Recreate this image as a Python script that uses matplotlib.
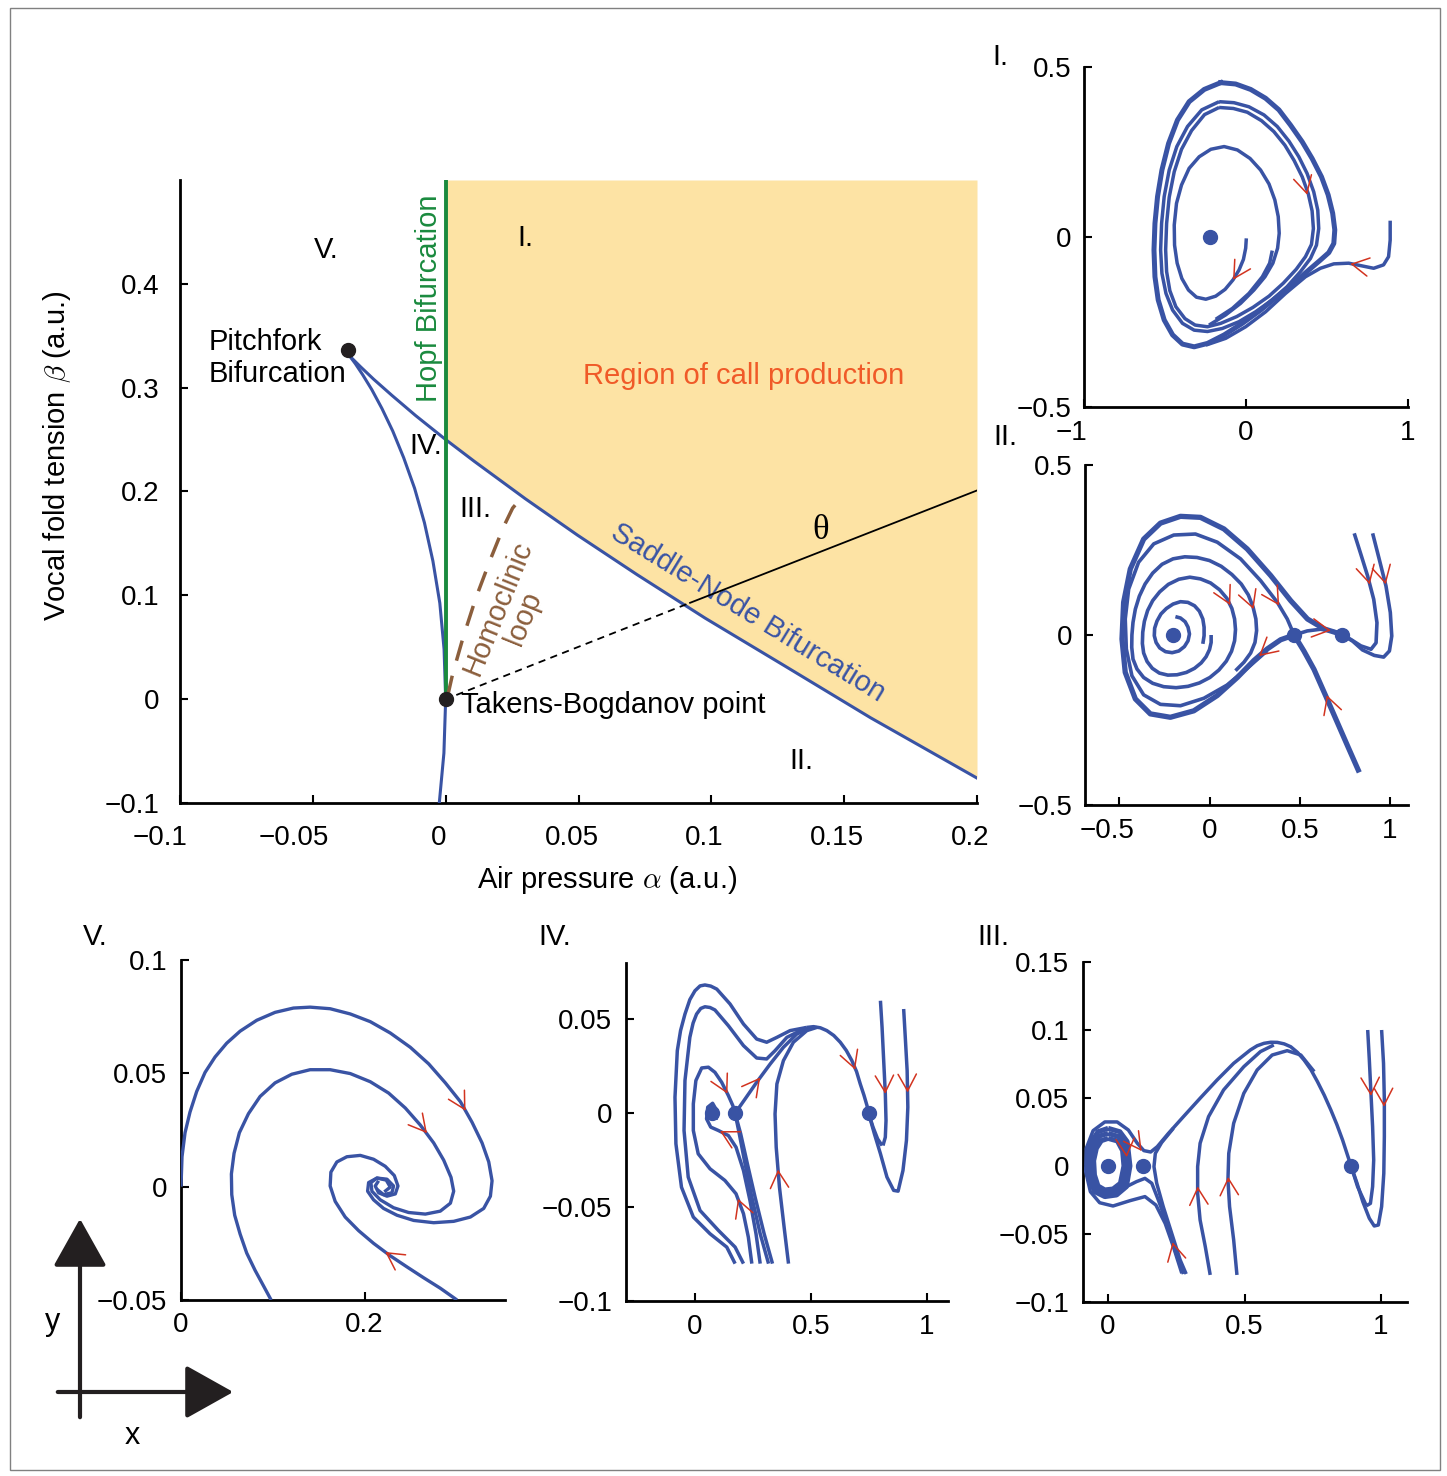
import numpy as np
import matplotlib.pyplot as plt
from matplotlib.patches import Rectangle, FancyArrowPatch
from matplotlib.transforms import ScaledTranslation

plt.rcParams["font.family"] = ["Liberation Sans", "DejaVu Sans"]
plt.rcParams["mathtext.fontset"] = "cm"
plt.rcParams["lines.solid_joinstyle"] = "round"

BLUE = "#3953a4"
RED = "#d2331f"
GREEN = "#1a8a3e"
BROWN = "#8b5e3c"
ORANGE = "#f05a28"
FILL = "#fde3a4"

# ---------------- bifurcation diagram (alpha, beta) ----------------
sn_upper_alpha = [-0.037, -0.0368, -0.0352, -0.032, -0.0271, -0.0202, -0.0113, 0.0, 0.0108, 0.030, 0.0496, 0.072,
                  0.0977, 0.127, 0.160, 0.200]
sn_upper_beta = [0.333, 0.3325, 0.3281, 0.320, 0.3081, 0.2925, 0.2731, 0.250, 0.229, 0.193, 0.158, 0.120, 0.078,
                 0.033, -0.018, -0.076]
sn_lower_alpha = [-0.037, -0.0369, -0.036, -0.034, -0.03125, -0.0278, -0.024, -0.0199, -0.0158, -0.0117, -0.008,
                  -0.0048, -0.0022, -0.0006, 0.0, -0.00066, -0.0024]
sn_lower_beta = [0.333, 0.3328, 0.330, 0.3231, 0.3125, 0.2981, 0.280, 0.2581, 0.2325, 0.2031, 0.170, 0.133, 0.0925,
                 0.0481, 0.0, -0.0519, -0.100]
hopf_alpha = [0.0, 0.0]
hopf_beta = [0.0, 0.5]
homoclinic_alpha = [0.00075, 0.0026, 0.0064, 0.0113, 0.0169, 0.0218, 0.0252, 0.0282]
homoclinic_beta = [0.003, 0.024, 0.058, 0.097, 0.135, 0.166, 0.184, 0.193]
theta_dash_alpha = [0.004, 0.092]
theta_dash_beta = [0.004, 0.0928]
theta_solid_alpha = [0.092, 0.200]
theta_solid_beta = [0.0928, 0.201]
pitchfork_pt = (-0.0368, 0.336)
tb_pt = (0.0, 0.0)

# ---------------- panel I ----------------
p1_fixed = [(-0.22, 0.0)]
p1_outer = ([-0.156, -0.064, 0.029, 0.121, 0.203, 0.275, 0.347, 0.408, 0.466, 0.507, 0.535, 0.548, 0.542, 0.511,
             0.459, 0.388, 0.306, 0.203, 0.090, -0.023, -0.135, -0.238, -0.320, -0.392, -0.453, -0.505, -0.542,
             -0.562, -0.568, -0.562, -0.546, -0.519, -0.478, -0.423, -0.351, -0.258, -0.156],
            [0.454, 0.450, 0.434, 0.408, 0.374, 0.329, 0.280, 0.231, 0.177, 0.124, 0.070, 0.021, -0.019, -0.046,
             -0.068, -0.097, -0.131, -0.171, -0.215, -0.254, -0.288, -0.313, -0.323, -0.315, -0.288, -0.244, -0.185,
             -0.117, -0.038, 0.040, 0.119, 0.197, 0.275, 0.344, 0.398, 0.434, 0.454])
p1_ring = ([-0.166, -0.074, 0.018, 0.111, 0.193, 0.265, 0.326, 0.377, 0.418, 0.443, 0.449, 0.435, 0.398, 0.336, 0.254,
            0.162, 0.059, -0.043, -0.146, -0.238, -0.320, -0.392, -0.453, -0.494, -0.519, -0.527, -0.521, -0.505,
            -0.474, -0.427, -0.361, -0.273, -0.166],
           [0.398, 0.395, 0.383, 0.359, 0.325, 0.282, 0.236, 0.187, 0.133, 0.079, 0.025, -0.024, -0.063, -0.102,
            -0.146, -0.185, -0.220, -0.249, -0.269, -0.278, -0.274, -0.254, -0.215, -0.166, -0.107, -0.038, 0.040,
            0.119, 0.197, 0.266, 0.325, 0.374, 0.398])
p1_ring2 = ([-0.166, -0.078, 0.008, 0.096, 0.172, 0.240, 0.297, 0.347, 0.384, 0.408, 0.416, 0.404, 0.367, 0.310, 0.230,
             0.142, 0.043, -0.057, -0.156, -0.238, -0.314, -0.377, -0.433, -0.470, -0.490, -0.496, -0.490, -0.474,
             -0.443, -0.398, -0.336, -0.256, -0.166],
            [0.381, 0.378, 0.367, 0.342, 0.310, 0.270, 0.225, 0.177, 0.128, 0.077, 0.025, -0.022, -0.058, -0.095,
             -0.136, -0.174, -0.207, -0.234, -0.254, -0.264, -0.259, -0.240, -0.205, -0.158, -0.102, -0.038, 0.040,
             0.117, 0.192, 0.258, 0.313, 0.360, 0.381])
p1_inner = ([0.002, -0.002, -0.016, -0.043, -0.080, -0.129, -0.187, -0.248, -0.306, -0.355, -0.396, -0.425, -0.441,
             -0.443, -0.429, -0.398, -0.351, -0.289, -0.217, -0.135, -0.053, 0.025, 0.090, 0.142, 0.178, 0.199, 0.205,
             0.195, 0.166, 0.117, 0.049, -0.033, -0.125, -0.228],
            [-0.004, -0.033, -0.066, -0.097, -0.126, -0.154, -0.174, -0.183, -0.177, -0.156, -0.122, -0.077, -0.024,
             0.035, 0.099, 0.153, 0.202, 0.236, 0.258, 0.266, 0.256, 0.231, 0.197, 0.156, 0.109, 0.060, 0.011,
             -0.033, -0.077, -0.117, -0.156, -0.195, -0.229, -0.259])
p1_short = ([0.162, 0.146, 0.101, 0.018, -0.084, -0.187],
            [-0.040, -0.077, -0.117, -0.166, -0.210, -0.242])
p1_right = ([0.890, 0.890, 0.880, 0.849, 0.788, 0.716, 0.634, 0.542, 0.459, 0.367, 0.244, 0.121, -0.002, -0.125, -0.248],
            [0.048, -0.009, -0.058, -0.082, -0.092, -0.085, -0.077, -0.079, -0.092, -0.117, -0.166, -0.220, -0.264,
             -0.298, -0.318])
p1_arrows = [((0.378, 0.124), (0.350, 0.175)), ((-0.080, -0.126), (-0.043, -0.097)), ((0.644, -0.079), (0.716, -0.085))]

# ---------------- panel II ----------------
p2_fixed = [(-0.2, 0.0), (0.469, 0.0), (0.737, 0.0)]
p2_spiral1 = ([-0.189, -0.161, -0.135, -0.119, -0.111, -0.119, -0.139, -0.170, -0.207, -0.244, -0.276, -0.296, -0.306,
               -0.304, -0.291, -0.269, -0.239, -0.202, -0.161, -0.120, -0.083, -0.056, -0.037, -0.030, -0.030, -0.037],
              [0.054, 0.050, 0.039, 0.023, 0.003, -0.017, -0.034, -0.047, -0.052, -0.049, -0.038, -0.022, -0.002,
               0.020, 0.041, 0.062, 0.078, 0.091, 0.098, 0.096, 0.086, 0.070, 0.047, 0.023, -0.002, -0.026])
p2_spiral2 = ([0.009, 0.009, 0.000, -0.019, -0.046, -0.083, -0.128, -0.180, -0.231, -0.278, -0.317, -0.346, -0.365,
               -0.372, -0.370, -0.361, -0.343, -0.315, -0.276, -0.228, -0.170, -0.109, -0.050, 0.006, 0.056, 0.096,
               0.124, 0.139, 0.144, 0.139, 0.122, 0.093, 0.052, 0.002, -0.056, -0.119, -0.185, -0.254, -0.315,
               -0.365, -0.402, -0.424, -0.431, -0.430, -0.424, -0.411, -0.389, -0.357, -0.315, -0.263, -0.202,
               -0.137, -0.069, 0.000, 0.065, 0.124, 0.176, 0.215, 0.241, 0.257, 0.261, 0.252, 0.228, 0.191, 0.144],
              [0.000, -0.022, -0.043, -0.064, -0.082, -0.098, -0.110, -0.117, -0.118, -0.112, -0.098, -0.078, -0.053,
               -0.025, 0.008, 0.040, 0.072, 0.101, 0.127, 0.149, 0.164, 0.170, 0.165, 0.153, 0.133, 0.108, 0.078,
               0.047, 0.016, -0.017, -0.048, -0.077, -0.103, -0.125, -0.141, -0.151, -0.155, -0.152, -0.142, -0.125,
               -0.100, -0.071, -0.036, 0.000, 0.037, 0.076, 0.114, 0.150, 0.182, 0.208, 0.224, 0.230, 0.228, 0.219,
               0.202, 0.178, 0.150, 0.118, 0.083, 0.047, 0.013, -0.022, -0.053, -0.080, -0.105])
p2_outer = ([0.469, 0.394, 0.320, 0.246, 0.154, 0.043, -0.087, -0.217, -0.328, -0.411, -0.467, -0.485, -0.476, -0.439,
             -0.365, -0.272, -0.161, -0.050, 0.080, 0.209, 0.339, 0.450, 0.543, 0.635, 0.737],
            [0.0, -0.014, -0.041, -0.075, -0.125, -0.178, -0.223, -0.242, -0.232, -0.188, -0.110, -0.012, 0.096,
             0.194, 0.282, 0.329, 0.349, 0.346, 0.312, 0.253, 0.175, 0.101, 0.047, 0.018, 0.001])
p2_loop = ([0.320, 0.209, 0.098, -0.031, -0.161, -0.272, -0.365, -0.430, -0.461, -0.467, -0.448, -0.393, -0.309,
            -0.198, -0.078, 0.043, 0.172, 0.283, 0.376, 0.431, 0.469],
           [-0.046, -0.098, -0.147, -0.186, -0.208, -0.204, -0.176, -0.120, -0.041, 0.047, 0.135, 0.214, 0.268,
            0.294, 0.297, 0.273, 0.224, 0.160, 0.096, 0.047, 0.0])
p2_stable = ([0.824, 0.765, 0.709, 0.644, 0.579, 0.523, 0.469],
             [-0.397, -0.326, -0.258, -0.179, -0.101, -0.047, 0.0])
p2_to_node = ([0.469, 0.542, 0.616, 0.691, 0.737], [0.0, 0.012, 0.017, 0.010, 0.0])
p2_t1 = ([0.802, 0.839, 0.876, 0.910, 0.928, 0.923, 0.895, 0.839, 0.783, 0.737],
         [0.299, 0.237, 0.174, 0.105, 0.036, -0.023, -0.042, -0.032, -0.013, 0.0])
p2_t2 = ([0.904, 0.941, 0.978, 1.002, 1.010, 0.997, 0.965, 0.913, 0.848, 0.793, 0.737],
         [0.299, 0.222, 0.144, 0.066, -0.003, -0.047, -0.065, -0.060, -0.044, -0.018, 0.0])
p2_arrows = [((0.115, 0.088), (0.096, 0.108)), ((0.244, 0.076), (0.215, 0.118)), ((0.386, 0.087), (0.350, 0.118)),
             ((0.672, 0.013), (0.620, 0.017)), ((0.274, -0.062), (0.320, -0.041)), ((0.650, -0.177), (0.676, -0.218)),
             ((0.888, 0.149), (0.876, 0.174)), ((0.977, 0.149), (0.960, 0.185))]

# ---------------- panel V ----------------
p5_a = ([0.0, 0.0011, 0.0044, 0.0098, 0.0171, 0.0262, 0.0371, 0.0498, 0.0644, 0.0825, 0.1025, 0.1225, 0.1407, 0.1625,
         0.1844, 0.2062, 0.2280, 0.2498, 0.2698, 0.2880, 0.3044, 0.3171, 0.3280, 0.3353, 0.3389, 0.3371, 0.3298, 0.3153,
         0.2971, 0.2753, 0.2535, 0.2353, 0.2207, 0.2098, 0.2033, 0.2044, 0.2135, 0.2244, 0.2316, 0.2298, 0.2207, 0.2135],
        [0.0, 0.0132, 0.0238, 0.0329, 0.0420, 0.0504, 0.0572, 0.0633, 0.0686, 0.0734, 0.0769, 0.0788, 0.0792, 0.0785,
         0.0762, 0.0728, 0.0678, 0.0615, 0.0542, 0.0458, 0.0375, 0.0284, 0.0193, 0.0109, 0.0026, -0.0042, -0.0096,
         -0.0134, -0.0153, -0.0159, -0.0149, -0.0126, -0.0096, -0.0058, -0.0020, 0.0018, 0.0038, 0.0033, 0.0003,
         -0.0027, -0.0035, -0.0012])
p5_b = ([0.0982, 0.0898, 0.0807, 0.0716, 0.0644, 0.0585, 0.0553, 0.0549, 0.0578, 0.0636, 0.0735, 0.0862, 0.1025, 0.1207,
         0.1407, 0.1625, 0.1844, 0.2062, 0.2262, 0.2444, 0.2607, 0.2753, 0.2862, 0.2942, 0.2971, 0.2935, 0.2825, 0.2662,
         0.2480, 0.2316, 0.2171, 0.2080, 0.2069, 0.2135, 0.2236, 0.2280, 0.2215],
        [-0.050, -0.0437, -0.0369, -0.0293, -0.0209, -0.0126, -0.0035, 0.0056, 0.0147, 0.0238, 0.0322, 0.0398, 0.0458,
         0.0496, 0.0516, 0.0516, 0.0499, 0.0463, 0.0413, 0.0347, 0.0272, 0.0193, 0.0117, 0.0041, -0.0020, -0.0073,
         -0.0108, -0.0121, -0.0114, -0.0093, -0.0058, -0.0020, 0.0018, 0.0038, 0.0029, -0.0002, -0.0023])
p5_c = ([0.3007, 0.2825, 0.2644, 0.2462, 0.2280, 0.2098, 0.1935, 0.1789, 0.1680, 0.1625, 0.1633, 0.1698, 0.1807, 0.1953,
         0.2098, 0.2225, 0.2324, 0.2364, 0.2335, 0.2244, 0.2153, 0.2116, 0.2153],
        [-0.050, -0.0448, -0.0402, -0.0354, -0.0305, -0.0250, -0.0194, -0.0134, -0.0065, 0.0003, 0.0064, 0.0109, 0.0132,
         0.0138, 0.0121, 0.0090, 0.0049, 0.0003, -0.0032, -0.0042, -0.0027, 0.0003, 0.0026])
p5_arrows = [((0.268, 0.0236), (0.2607, 0.0272)), ((0.310, 0.0335), (0.3044, 0.0375)), ((0.2225, -0.0288), (0.2462, -0.0354))]

# ---------------- panel IV ----------------
p4_fixed = [(0.074, 0.0), (0.173, 0.0), (0.748, 0.0)]
p4_l1 = ([0.173, 0.137, 0.065, -0.007, -0.058, -0.082, -0.086, -0.076, -0.062, -0.043, -0.022, 0.000, 0.022, 0.043,
          0.068, 0.094, 0.151, 0.209, 0.266, 0.309, 0.353, 0.410, 0.482],
         [-0.0801, -0.0713, -0.0642, -0.0553, -0.0394, -0.0163, 0.0085, 0.0333, 0.0440, 0.0528, 0.0605, 0.0652, 0.0678,
          0.0683, 0.0677, 0.0661, 0.0582, 0.0475, 0.0395, 0.0378, 0.0404, 0.0440, 0.0457])
p4_l2 = ([0.209, 0.173, 0.101, 0.022, -0.029, -0.047, -0.043, -0.022, -0.008, 0.007, 0.025, 0.043, 0.065, 0.086, 0.144,
          0.209, 0.266, 0.309, 0.345, 0.396, 0.482],
         [-0.0801, -0.0713, -0.0624, -0.0518, -0.0340, -0.0092, 0.0174, 0.0404, 0.0480, 0.0528, 0.0558, 0.0567, 0.0563,
          0.0550, 0.0466, 0.0360, 0.0294, 0.0289, 0.0333, 0.0404, 0.0457])
p4_arch = ([0.482, 0.511, 0.540, 0.568, 0.598, 0.626, 0.652, 0.676, 0.696, 0.712, 0.728, 0.741, 0.748, 0.767, 0.787,
            0.806],
           [0.0457, 0.0461, 0.0455, 0.0440, 0.0414, 0.0378, 0.0334, 0.0280, 0.0222, 0.0156, 0.0096, 0.0041, 0.0, -0.0074,
            -0.0137, -0.0172])
p4_l3 = ([0.245, 0.230, 0.209, 0.177, 0.129, 0.065, 0.014, -0.007, -0.007, 0.004, 0.029, 0.058, 0.086, 0.115, 0.144,
          0.163, 0.173],
         [-0.0801, -0.0660, -0.0535, -0.0429, -0.0358, -0.0296, -0.0216, -0.0092, 0.0050, 0.0174, 0.0241, 0.0245,
          0.0218, 0.0165, 0.0094, 0.0041, 0.0])
p4_focus_in = ([0.281, 0.263, 0.237, 0.209, 0.177, 0.144, 0.101, 0.068, 0.050, 0.055, 0.076, 0.094, 0.091],
               [-0.0801, -0.0642, -0.0465, -0.0305, -0.0181, -0.0119, -0.0092, -0.0074, -0.0030, 0.0032, 0.0053,
                0.0014, -0.0035])
p4_u1 = ([0.173, 0.191, 0.216, 0.245, 0.281, 0.317], [0.0, -0.0110, -0.0270, -0.0447, -0.0642, -0.0801])
p4_u2 = ([0.173, 0.197, 0.226, 0.259, 0.298, 0.334], [0.0, -0.0110, -0.0270, -0.0447, -0.0642, -0.0801])
p4_up = ([0.173, 0.216, 0.266, 0.324, 0.381, 0.439, 0.496], [0.0, 0.0076, 0.0165, 0.0262, 0.0351, 0.0422, 0.0454])
p4_r = ([0.403, 0.384, 0.364, 0.350, 0.345, 0.353, 0.381, 0.424, 0.482, 0.525],
        [-0.0801, -0.0606, -0.0394, -0.0181, -0.0004, 0.0156, 0.0280, 0.0378, 0.0440, 0.0457])
p4_t1 = ([0.799, 0.806, 0.813, 0.820, 0.823, 0.820, 0.810], [0.0599, 0.0457, 0.0280, 0.0103, -0.0039, -0.0128, -0.0172])
p4_t2 = ([0.899, 0.906, 0.914, 0.917, 0.911, 0.896, 0.875, 0.856, 0.827, 0.799, 0.773, 0.748],
         [0.0555, 0.0404, 0.0227, 0.0032, -0.0145, -0.0305, -0.0415, -0.0411, -0.0340, -0.0216, -0.0110, 0.0])
p4_arrows = [((0.690, 0.0232), (0.676, 0.0280)), ((0.820, 0.0103), (0.813, 0.0280)), ((0.916, 0.0110), (0.914, 0.0227)),
             ((0.140, 0.0104), (0.115, 0.0165)), ((0.281, 0.0190), (0.250, 0.0140)), ((0.108, -0.0095), (0.144, -0.0119)),
             ((0.185, -0.0455), (0.209, -0.0535)), ((0.358, -0.0300), (0.364, -0.0394))]

# ---------------- panel III ----------------
p3_fixed = [(0.0, 0.0), (0.129, 0.0), (0.890, 0.0)]
p3_outer = ([0.270, 0.239, 0.209, 0.175, 0.135, 0.080, 0.018, -0.031, -0.065, -0.082, -0.080, -0.055, -0.012, 0.033,
             0.074, 0.107, 0.131, 0.156, 0.180, 0.221, 0.276, 0.337, 0.399, 0.460, 0.521, 0.546, 0.571, 0.596, 0.620,
             0.645, 0.669, 0.694, 0.718, 0.743, 0.767, 0.792, 0.816, 0.838, 0.859, 0.890, 0.914, 0.945],
            [-0.0789, -0.0593, -0.0422, -0.0287, -0.0225, -0.0255, -0.0294, -0.0270, -0.0189, -0.0042, 0.0130, 0.0260,
             0.0324, 0.0324, 0.0265, 0.0167, 0.0113, 0.0103, 0.0142, 0.0240, 0.0363, 0.0498, 0.0632, 0.0755, 0.0853,
             0.0884, 0.0902, 0.0910, 0.0909, 0.0898, 0.0877, 0.0835, 0.0779, 0.0708, 0.0620, 0.0520, 0.0412, 0.0305,
             0.0191, 0.0, -0.0152, -0.0287])
p3_r1 = ([0.000, 0.043, 0.070, 0.080, 0.067, 0.031, -0.012, -0.049, -0.070, -0.074, -0.065, -0.037, 0.000],
         [0.0277, 0.0252, 0.0179, 0.0, -0.0152, -0.0213, -0.0225, -0.0189, -0.0091, 0.0044, 0.0167, 0.0252, 0.0277])
p3_r2 = ([0.000, 0.039, 0.061, 0.067, 0.055, 0.025, -0.012, -0.043, -0.060, -0.063, -0.053, -0.031, 0.000],
         [0.0240, 0.0216, 0.0142, 0.0, -0.0140, -0.0189, -0.0196, -0.0164, -0.0078, 0.0044, 0.0154, 0.0221, 0.0240])
p3_r3 = ([0.000, 0.034, 0.053, 0.058, 0.045, 0.018, -0.012, -0.037, -0.050, -0.053, -0.043, -0.025, 0.000],
         [0.0203, 0.0184, 0.0113, 0.0, -0.0127, -0.0169, -0.0176, -0.0147, -0.0066, 0.0039, 0.0130, 0.0186, 0.0203])
p3_f2 = ([0.067, 0.104, 0.135, 0.160, 0.184, 0.215, 0.245, 0.276],
         [-0.0152, -0.0115, -0.0091, -0.0127, -0.0250, -0.0422, -0.0618, -0.0794])
p3_e = ([0.239, 0.196, 0.173, 0.168, 0.178, 0.202, 0.233, 0.264, 0.286],
        [0.0277, 0.0172, 0.0093, -0.0005, -0.0127, -0.0299, -0.0495, -0.0691, -0.0794])
p3_c = ([0.374, 0.356, 0.337, 0.328, 0.328, 0.337, 0.368, 0.423, 0.497, 0.558, 0.607],
        [-0.0801, -0.0593, -0.0397, -0.0201, -0.0005, 0.0167, 0.0363, 0.0559, 0.0730, 0.0841, 0.0890])
p3_d = ([0.472, 0.460, 0.445, 0.439, 0.442, 0.460, 0.497, 0.546, 0.601, 0.656, 0.706, 0.755],
        [-0.0801, -0.0544, -0.0299, -0.0103, 0.0093, 0.0314, 0.0534, 0.0706, 0.0816, 0.0848, 0.0816, 0.0694])
p3_t1 = ([0.951, 0.957, 0.963, 0.969, 0.973, 0.969, 0.961, 0.945],
         [0.1000, 0.0779, 0.0534, 0.0289, 0.0044, -0.0152, -0.0275, -0.0294])
p3_t2 = ([1.002, 1.009, 1.012, 1.012, 1.010, 1.002, 0.990, 0.975, 0.957, 0.933, 0.912, 0.890],
         [0.1000, 0.0755, 0.0485, 0.0216, -0.0054, -0.0299, -0.0434, -0.0441, -0.0385, -0.0262, -0.0127, 0.0])
p3_arrows = [((0.963, 0.0515), (0.960, 0.065)), ((1.011, 0.0435), (1.009, 0.058)), ((0.328, -0.0150), (0.333, -0.030)),
             ((0.440, -0.0080), (0.445, -0.025)), ((0.236, -0.0560), (0.250, -0.068)), ((0.068, 0.0065), (0.064, 0.016)),
             ((0.123, 0.0110), (0.100, 0.0175))]


def fmt(v):
    return f"{v:g}".replace("-", "\u2212")


def style_axes(ax, xlim, ylim, xticks, yticks, xpad, ypad, xshift=0):
    ax.set_xlim(*xlim)
    ax.set_ylim(*ylim)
    ax.patch.set_alpha(0)
    for s in ("top", "right"):
        ax.spines[s].set_visible(False)
    for s in ("left", "bottom"):
        ax.spines[s].set_linewidth(2.0)
    ax.set_xticks(xticks)
    ax.set_yticks(yticks)
    ax.set_xticklabels([fmt(v) for v in xticks])
    ax.set_yticklabels([fmt(v) for v in yticks])
    ax.tick_params(direction="in", length=6, width=1.5, labelsize=20)
    ax.tick_params(axis="x", pad=xpad)
    ax.tick_params(axis="y", pad=ypad)
    # negative x labels hang their minus sign to the left of the tick
    for v, lab in zip(xticks, ax.get_xticklabels()):
        dx = xshift - (9 if v < 0 else 0)
        if dx:
            lab.set_transform(lab.get_transform() + ScaledTranslation(dx / 72, 0, ax.figure.dpi_scale_trans))


def chevron(ax, tip, tail):
    # red open arrowhead sitting on a trajectory
    bx = tip[0] + 0.2 * (tail[0] - tip[0])
    by = tip[1] + 0.2 * (tail[1] - tip[1])
    ax.annotate("", xy=tip, xytext=(bx, by),
                arrowprops=dict(arrowstyle="->,head_length=0.55,head_width=0.3", color=RED, lw=1.1,
                                shrinkA=0, shrinkB=0, mutation_scale=22), zorder=6)


def draw_curves(ax, curves, lw):
    for cx, cy in curves:
        ax.plot(cx, cy, color=BLUE, lw=lw, solid_capstyle="butt", zorder=3)


def draw_fixed(ax, pts):
    for px, py in pts:
        ax.plot(px, py, "o", color=BLUE, ms=10, zorder=4)


W, H = 1447, 1476
fig = plt.figure(figsize=(W / 100, H / 100), dpi=100)


def box(l, r, t, b):
    return [l / W, 1 - b / H, (r - l) / W, (b - t) / H]


# ---- main bifurcation diagram ----
ax = fig.add_axes(box(180, 977, 180, 803))
style_axes(ax, (-0.1, 0.2), (-0.1, 0.5), [-0.1, -0.05, 0, 0.05, 0.1, 0.15, 0.2],
           [-0.1, 0, 0.1, 0.2, 0.3, 0.4], 16, 15, xshift=-5)
ua = np.array(sn_upper_alpha)
ub = np.array(sn_upper_beta)
m = ua >= 0
ax.fill_between(ua[m], ub[m], 0.5, color=FILL, lw=0, zorder=0)
ax.plot(sn_upper_alpha, sn_upper_beta, color=BLUE, lw=2.2, zorder=3)
ax.plot(sn_lower_alpha, sn_lower_beta, color=BLUE, lw=2.2, zorder=3)
ax.plot(hopf_alpha, hopf_beta, color=GREEN, lw=2.8, zorder=4)
ax.plot(homoclinic_alpha, homoclinic_beta, color=BROWN, lw=2.5, dashes=(6, 4.5), zorder=4)
ax.plot(theta_dash_alpha, theta_dash_beta, color="k", lw=1.3, dashes=(4, 3), zorder=4)
ax.plot(theta_solid_alpha, theta_solid_beta, color="k", lw=1.3, zorder=4)
ax.plot(*pitchfork_pt, "o", color="#231f20", ms=10, zorder=6)
ax.plot(*tb_pt, "o", color="#231f20", ms=10, zorder=6, clip_on=False)

ax.text(-0.154, 0.557, r"Vocal fold tension $\beta$ (a.u.)", transform=ax.transAxes, rotation=90,
        ha="center", va="center", fontsize=21)
ax.text(0.536, -0.124, r"Air pressure $\alpha$ (a.u.)", transform=ax.transAxes,
        ha="center", va="center", fontsize=21)
ax.text(-0.0064, 0.3865, "Hopf Bifurcation", color=GREEN, rotation=90, ha="center", va="center", fontsize=21)
ax.text(-0.0891, 0.3285, "Pitchfork\nBifurcation", ha="left", va="center", fontsize=21, linespacing=1.15)
ax.text(0.0056, -0.006, "Takens-Bogdanov point", ha="left", va="center", fontsize=21)
ax.text(0.112, 0.311, "Region of call production", color=ORANGE, ha="center", va="center", fontsize=21)
ax.text(0.141, 0.1623, "θ", family=["Liberation Serif", "DejaVu Serif"], ha="center", va="center", fontsize=25)
ax.text(0.1139, 0.0831, "Saddle-Node Bifurcation", color=BLUE, rotation=-31.5, rotation_mode="anchor",
        ha="center", va="center", fontsize=21)
ax.text(0.0244, 0.083, "Homoclinic\nloop", color=BROWN, rotation=68, rotation_mode="anchor",
        ha="center", va="center", fontsize=21, linespacing=1.0, multialignment="center")
for lbl, xa, yb in [("V.", -0.0451, 0.4329), ("I.", 0.0301, 0.4444), ("IV.", -0.0075, 0.2435),
                    ("III.", 0.0113, 0.1836), ("II.", 0.1338, -0.0599)]:
    ax.text(xa, yb, lbl, ha="center", va="center", fontsize=21)

# ---- panel I ----
ax1 = fig.add_axes(box(1084, 1408, 67, 407))
style_axes(ax1, (-1, 1), (-0.5, 0.5), [-1, 0, 1], [-0.5, 0, 0.5], 9, 9)
ax1.plot(*p1_outer, color=BLUE, lw=3.6, zorder=3)
draw_curves(ax1, [p1_ring, p1_ring2, p1_inner, p1_short, p1_right], 2.5)
draw_fixed(ax1, p1_fixed)
for tip, tail in p1_arrows:
    chevron(ax1, tip, tail)

# ---- panel II ----
ax2 = fig.add_axes(box(1085, 1408, 465, 805))
style_axes(ax2, (-0.69, 1.1), (-0.5, 0.5), [-0.5, 0, 0.5, 1], [-0.5, 0, 0.5], 9, 9)
ax2.plot(*p2_outer, color=BLUE, lw=3.8, zorder=3)
ax2.plot(*p2_stable, color=BLUE, lw=3.8, zorder=3)
draw_curves(ax2, [p2_spiral1, p2_spiral2, p2_loop, p2_to_node, p2_t1, p2_t2], 2.6)
draw_fixed(ax2, p2_fixed)
for tip, tail in p2_arrows:
    chevron(ax2, tip, tail)

# ---- panel V ----
ax5 = fig.add_axes(box(181, 505, 960, 1300))
style_axes(ax5, (0, 0.353), (-0.05, 0.1), [0, 0.2], [-0.05, 0, 0.05, 0.1], 9, 10)
draw_curves(ax5, [p5_a, p5_b, p5_c], 2.4)
for tip, tail in p5_arrows:
    chevron(ax5, tip, tail)

# ---- panel IV ----
ax4 = fig.add_axes(box(626, 948, 963, 1301))
style_axes(ax4, (-0.297, 1.09), (-0.1, 0.08), [0, 0.5, 1], [-0.1, -0.05, 0, 0.05], 9, 10)
draw_curves(ax4, [p4_l1, p4_l2, p4_arch, p4_l3, p4_focus_in, p4_u1, p4_u2, p4_up, p4_r, p4_t1, p4_t2], 2.5)
draw_fixed(ax4, p4_fixed)
for tip, tail in p4_arrows:
    chevron(ax4, tip, tail)

# ---- panel III ----
ax3 = fig.add_axes(box(1083, 1407, 962, 1302))
style_axes(ax3, (-0.092, 1.095), (-0.1, 0.15), [0, 0.5, 1], [-0.1, -0.05, 0, 0.05, 0.1, 0.15], 9, 10)
draw_curves(ax3, [p3_outer, p3_f2, p3_e, p3_c, p3_d, p3_t1, p3_t2], 2.5)
draw_curves(ax3, [p3_r1, p3_r2, p3_r3], 3.6)
draw_fixed(ax3, p3_fixed)
for tip, tail in p3_arrows:
    chevron(ax3, tip, tail)

# panel tags
for lbl, px, py in [("I.", 1000, 57), ("II.", 1005, 437), ("V.", 95, 937), ("IV.", 555, 937), ("III.", 993, 937)]:
    fig.text(px / W, 1 - py / H, lbl, ha="center", va="center", fontsize=21)

# x / y compass
fig.add_artist(FancyArrowPatch((80 / W, 1 - 1420 / H), (80 / W, 1 - 1216 / H), transform=fig.transFigure,
                               arrowstyle="-|>,head_length=0.75,head_width=0.42", mutation_scale=40,
                               lw=3, color="#231f20"))
fig.add_artist(FancyArrowPatch((55 / W, 1 - 1392 / H), (236 / W, 1 - 1392 / H), transform=fig.transFigure,
                               arrowstyle="-|>,head_length=0.75,head_width=0.42", mutation_scale=40,
                               lw=3, color="#231f20"))
fig.text(53 / W, 1 - 1322 / H, "y", ha="center", va="center", fontsize=22)
fig.text(132 / W, 1 - 1436 / H, "x", ha="center", va="center", fontsize=22)

# outer frame
fig.add_artist(Rectangle((10 / W, 6 / H), 1430 / W, 1462 / H, transform=fig.transFigure,
                         fill=False, ec="#808080", lw=1.0))

fig.savefig("out.png", dpi=100)
